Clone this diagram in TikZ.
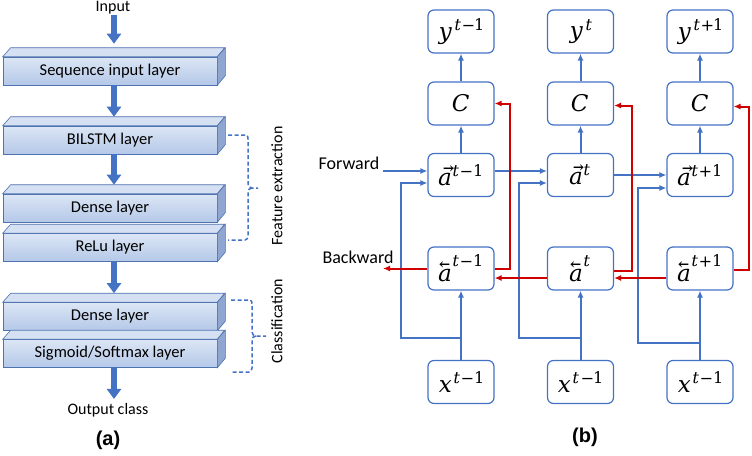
\documentclass[tikz,border=0pt]{standalone}
\usepackage{fontspec}
\usepackage{unicode-math}
\setmainfont{Carlito}
\setmathfont{DejaVu Math TeX Gyre}
\newfontfamily\arialfont{Liberation Sans}
\usepackage{graphicx}
\usetikzlibrary{arrows.meta}
\definecolor{lblue}{HTML}{4472C4}
\definecolor{lred}{HTML}{D00000}
\definecolor{edgeblue}{HTML}{4F72B0}
\definecolor{frontA}{HTML}{DCE6F5}
\definecolor{frontB}{HTML}{B4C8E8}
\definecolor{topface}{HTML}{D5E0F2}
\definecolor{sideface}{HTML}{8EA6D0}
\newcommand{\bvec}[1]{\reflectbox{$\vec{\reflectbox{$#1$}}$}}
\newcommand{\layerbox}[3]{%
  \node[layer] (#1) at (110,#2) {#3};
  \filldraw[fill=topface,draw=edgeblue,line width=0.6pt] (#1.north west) -- ++(8,-9) -- ++(214,0) -- (#1.north east) -- cycle;
  \filldraw[fill=sideface,draw=edgeblue,line width=0.6pt] (#1.north east) -- ++(8,-9) -- ++(0,28) -- (#1.south east) -- cycle;
}
\begin{document}
\begin{tikzpicture}[x=1pt,y=-1pt,
  layer/.style={minimum width=214pt, minimum height=28pt, inner sep=0pt,
    top color=frontA, bottom color=frontB, draw=edgeblue, line width=0.6pt,
    font=\fontsize{16.5}{18}\selectfont},
  blk/.style={lblue, line width=6.5pt, -{Triangle[width=14pt,length=10pt]}},
  lbl/.style={font=\fontsize{16}{18}\selectfont, inner sep=0pt},
  lblb/.style={font=\fontsize{18}{20}\selectfont, inner sep=0pt},
  brace/.style={lblue, line width=1.5pt, dash pattern=on 4pt off 2.5pt},
  cell/.style={draw=lblue, line width=1.2pt, rounded corners=6pt, fill=white,
    minimum width=66pt, minimum height=43pt, inner sep=0pt,
    font=\fontsize{23}{25}\selectfont},
  bl/.style={lblue, line width=2pt, -{Latex[length=7pt,width=6pt]}},
  rl/.style={lred, line width=2pt, -{Latex[length=7pt,width=6pt]}},
  captxt/.style={font=\arialfont\bfseries\fontsize{20}{22}\selectfont, inner sep=0pt}
]
\useasboundingbox (0,0) rectangle (752,455);

% ---------- panel (a)
\node[lbl] (inp) at (113,8) {Input};
\layerbox{l1}{71}{Sequence input layer}
\layerbox{l2}{140}{BILSTM layer}
\layerbox{l3}{208}{Dense layer}
\layerbox{l4}{247.5}{ReLu layer}
\layerbox{l5}{316.5}{Dense layer}
\layerbox{l6}{353.5}{Sigmoid/Softmax layer}
\node[lbl] (outc) at (108,410) {Output class};

\draw[blk] ([xshift=1pt]inp.south) -- ([xshift=4pt,yshift=13pt]l1.north);
\draw[blk] ([xshift=4pt]l1.south) -- ([xshift=4pt,yshift=9pt]l2.north);
\draw[blk] ([xshift=4pt]l2.south) -- ([xshift=4pt,yshift=9pt]l3.north);
\draw[blk] ([xshift=4pt]l4.south) -- ([xshift=4pt,yshift=9pt]l5.north);
\draw[blk] ([xshift=4pt]l6.south) -- ([xshift=6pt,yshift=4pt]outc.north);

\draw[brace] (228,135) -- (246,135) to[out=0,in=90] (248,139) -- (248,184)
  to[out=-90,in=180] (252,188) -- (258,188);
\draw[brace] (252,188) to[out=180,in=90] (248,192) -- (248,236)
  to[out=-90,in=0] (245,240) -- (228,240);
\node[lbl, rotate=90] (fe) at (277,186) {Feature extraction};

\draw[brace] (231,300) -- (250,300) to[out=0,in=90] (252,304) -- (252,332)
  to[out=-90,in=180] (256,336) -- (266,336);
\draw[brace] (256,336) to[out=180,in=90] (252,340) -- (252,368)
  to[out=-90,in=0] (249,372) -- (231,372);
\node[lbl, rotate=90] (cl) at (277,321) {Classification};

\node[captxt] (capa) at (108,440) {(a)};

% ---------- panel (b)
\foreach \c/\x in {1/461,2/580.5,3/700} {
  \node[cell] (c\c) at (\x,103.5) {$C$};
}
\node[cell] (y1) at (461,31.5) {$y^{t-1}$};
\node[cell] (y2) at (580.5,31.5) {$y^{t}$};
\node[cell] (y3) at (700,31.5) {$y^{t+1}$};
\node[cell] (af1) at (461,175) {$\vec{a}^{t-1}$};
\node[cell] (af2) at (580.5,175) {$\vec{a}^{t}$};
\node[cell] (af3) at (700,175) {$\vec{a}^{t+1}$};
\node[cell] (ab1) at (461,268.5) {$\bvec{a}^{t-1}$};
\node[cell] (ab2) at (580.5,268.5) {$\bvec{a}^{t}$};
\node[cell] (ab3) at (700,268.5) {$\bvec{a}^{t+1}$};
\node[cell] (x1) at (461,382) {$x^{t-1}$};
\node[cell] (x2) at (580.5,382) {$x^{t-1}$};
\node[cell] (x3) at (700,382) {$x^{t-1}$};

\node[lblb] (fwdt) at (349,163) {Forward};
\node[lblb] (bwdt) at (358,257) {Backward};
\coordinate (fwd) at (383,171);
\coordinate (bwd) at (383,268.5);
\coordinate (k1) at (401,338);
\coordinate (k2) at (519,338);
\coordinate (k3) at (638,343);

\foreach \c in {1,2,3} {
  \draw[bl] (af\c.north) -- (c\c.south);
  \draw[bl] (c\c.north) -- (y\c.south);
  \draw[bl] (x\c.north) -- (ab\c.south);
}
\draw[bl] (fwd) -- ([yshift=4pt]af1.west);
\draw[bl] ([yshift=4pt]af1.east) -- ([yshift=4pt]af2.west);
\draw[bl] (af2.east) -- (af3.west);
\draw[bl] (x1.north) |- (k1) |- ([yshift=-8pt]af1.west);
\draw[bl] (x2.north) |- (k2) |- ([yshift=-8pt]af2.west);
\draw[bl] (x3.north) |- (k3) |- ([yshift=-13pt]af3.west);

\draw[rl] (ab1.west) -- (bwd);
\draw[rl] ([yshift=-9.5pt]ab2.west) -- ([yshift=-9.5pt]ab1.east);
\draw[rl] ([yshift=-9.5pt]ab3.west) -- ([yshift=-9.5pt]ab2.east);
\draw[rl] (ab1.east) -- ++(15,0) |- (c1.east);
\draw[rl] ([yshift=-2pt]ab2.east) -- ++(18,0) |- ([yshift=-2pt]c2.east);
\draw[rl] ([yshift=-1.5pt]ab3.east) -- ++(15,0) |- ([yshift=-3pt]c3.east);

\node[captxt] (capb) at (585,437) {(b)};
\end{tikzpicture}
\end{document}
